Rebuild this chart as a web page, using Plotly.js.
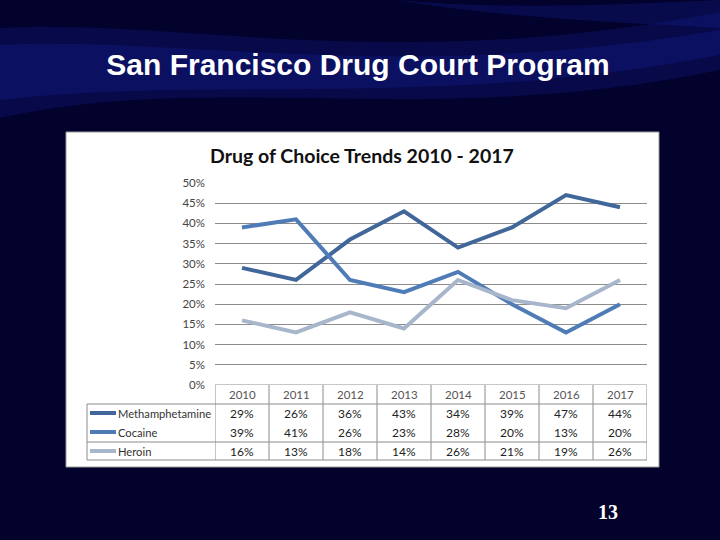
<!DOCTYPE html>
<html>
<head>
<meta charset="utf-8">
<script src="https://cdn.plot.ly/plotly-3.0.1.min.js"></script>
<style>html,body{margin:0;padding:0;background:#02022c;}#chart{width:720px;height:540px;}</style>
</head>
<body>
<div id="chart"></div>
<script>
// ---- data ----
const years = ["2010","2011","2012","2013","2014","2015","2016","2017"];
const seriesNames = ["Methamphetamine","Cocaine","Heroin"];
const meth = [29,26,36,43,34,39,47,44];
const cocaine = [39,41,26,23,28,20,13,20];
const heroin = [16,13,18,14,26,21,19,26];
const yTicks = [0,5,10,15,20,25,30,35,40,45,50];
const yTickLabels = ["0%","5%","10%","15%","20%","25%","30%","35%","40%","45%","50%"];
const gridTicks = [5,10,15,20,25,30,35,40,45];

const allSeries = [meth, cocaine, heroin];
const colors = ["#41679a","#4f7cb6","#a8b6cc"];

// ---- geometry helpers (pixel -> paper) ----
const W = 720, H = 540;
const px = x => x / W;
const py = y => 1 - y / H;

const font = "Lato, 'Open Sans', sans-serif";

const traces = allSeries.map((vals, i) => ({
  type: "scatter", mode: "lines",
  x: years, y: vals, name: seriesNames[i],
  line: {color: colors[i], width: 4},
  xaxis: "x", yaxis: "y", showlegend: false, hoverinfo: "skip"
}));
traces.push({type:"scatter", mode:"none", x: years, y: meth, xaxis:"x", yaxis:"y2", showlegend:false, hoverinfo:"skip"});

const shapes = [];
// background waves
shapes.push({type:"path", xref:"paper", yref:"paper", layer:"below",
  path:`M 0 ${py(28)} C 0.25 ${py(18)}, 0.55 ${py(75)}, 1 ${py(12)} L 1 ${py(70)} C 0.6 ${py(130)}, 0.3 ${py(70)}, 0 ${py(118)} Z`,
  fillcolor:"rgba(16,24,130,0.35)", line:{width:0}});
shapes.push({type:"path", xref:"paper", yref:"paper", layer:"below",
  path:`M 0 ${py(45)} C 0.25 ${py(35)}, 0.55 ${py(85)}, 1 ${py(30)} L 1 ${py(55)} C 0.6 ${py(110)}, 0.3 ${py(75)}, 0 ${py(100)} Z`,
  fillcolor:"rgba(22,34,150,0.3)", line:{width:0}});
shapes.push({type:"path", xref:"paper", yref:"paper", layer:"below",
  path:`M 0.55 1 C 0.7 ${py(10)}, 0.85 ${py(5)}, 1 ${py(0)} L 1 ${py(28)} C 0.85 ${py(22)}, 0.7 ${py(18)}, 0.55 1 Z`,
  fillcolor:"rgba(22,34,150,0.3)", line:{width:0}});
// white chart box
shapes.push({type:"rect", xref:"paper", yref:"paper", x0:px(66), x1:px(659), y0:py(467), y1:py(132),
  fillcolor:"#ffffff", line:{color:"#9a9a9a", width:1}, layer:"below"});

// data table lines
const tblTop = 385, rowTop = 404, rowMid = 442, tblBot = 460;
const tblLeft = 87, plotL = 215, plotR = 647;
const lineStyle = {color:"#8c8c8c", width:1};
[rowTop, rowMid, tblBot].forEach(y => shapes.push({type:"line", xref:"paper", yref:"paper",
  x0:px(tblLeft), x1:px(plotR), y0:py(y), y1:py(y), line:lineStyle}));
shapes.push({type:"line", xref:"paper", yref:"paper", x0:px(tblLeft), x1:px(tblLeft), y0:py(rowTop), y1:py(tblBot), line:lineStyle});
for (let k = 0; k <= years.length; k++) {
  shapes.push({type:"line", xref:"x", yref:"paper", x0:k-0.5, x1:k-0.5, y0:py(tblTop), y1:py(tblBot), line:lineStyle});
}
// legend keys
const rowY = [413, 432, 451];
seriesNames.forEach((n, i) => shapes.push({type:"line", xref:"paper", yref:"paper",
  x0:px(90), x1:px(116), y0:py(rowY[i]), y1:py(rowY[i]), line:{color:colors[i], width:4}}));

const annotations = [];
annotations.push({text:"<b>Drug of Choice Trends 2010 - 2017</b>", xref:"paper", yref:"paper",
  x:px(362), y:py(156), xanchor:"center", yanchor:"middle", showarrow:false,
  font:{family:font, size:19.5, color:"#111111"}});
annotations.push({text:"<b>13</b>", xref:"paper", yref:"paper", x:px(608), y:py(512),
  xanchor:"center", yanchor:"middle", showarrow:false,
  font:{family:"'Liberation Serif', serif", size:20, color:"#ffffff"}});
seriesNames.forEach((n, i) => {
  annotations.push({text:n, xref:"paper", yref:"paper", x:px(116), y:py(rowY[i]), xanchor:"left", yanchor:"middle",
    showarrow:false, font:{family:font, size:11.2, color:"#333333"}});
  allSeries[i].forEach((v, j) => annotations.push({text:v + "%", xref:"x", yref:"paper", x:j, y:py(rowY[i]),
    xanchor:"center", yanchor:"middle", showarrow:false, font:{family:font, size:12, color:"#222222"}}));
});
years.forEach((yr, j) => annotations.push({text:yr, xref:"x", yref:"paper", x:j, y:py(394),
  xanchor:"center", yanchor:"middle", showarrow:false, font:{family:font, size:11.5, color:"#555555"}}));

const layout = {
  width: W, height: H,
  margin: {l:0, r:0, t:0, b:0},
  paper_bgcolor: "#02022c",
  plot_bgcolor: "rgba(0,0,0,0)",
  title: {text:"<b>San Francisco Drug Court Program</b>", x:px(358), xanchor:"center", y:py(64), yanchor:"middle",
    font:{family:"'Liberation Sans', Arial, sans-serif", size:30, color:"#ffffff"}},
  xaxis: {type:"category", domain:[px(plotL), px(plotR)], range:[-0.5, years.length-0.5],
    showticklabels:false, showgrid:false, zeroline:false, showline:false, ticks:"", fixedrange:true},
  yaxis: {domain:[py(385), py(183)], range:[0,50], tickvals:yTicks, ticktext:yTickLabels,
    showgrid:false, zeroline:false, showline:false, ticks:"", ticklabelstandoff:9,
    tickfont:{family:font, size:11.5, color:"#444444"}, fixedrange:true},
  yaxis2: {overlaying:"y", domain:[py(385), py(183)], range:[0,50], tickvals:gridTicks, showticklabels:false,
    showgrid:true, gridcolor:"#8c8c8c", gridwidth:1, zeroline:false, showline:false, ticks:"", fixedrange:true},
  shapes: shapes.concat([{type:"line", xref:"x", yref:"y", x0:-0.5, x1:years.length-0.5, y0:0, y1:0, line:lineStyle}]),
  annotations: annotations
};

Plotly.newPlot("chart", traces, layout, {staticPlot:true, displayModeBar:false});
</script>
</body>
</html>
